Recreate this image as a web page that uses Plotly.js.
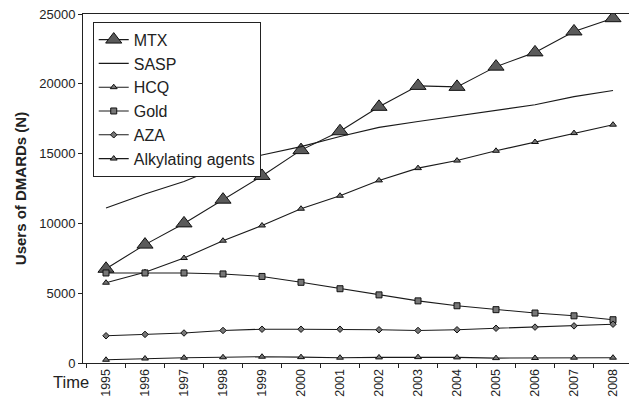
<!DOCTYPE html>
<html>
<head>
<meta charset="utf-8">
<script src="https://cdn.plot.ly/plotly-3.0.1.min.js"></script>
<style>html,body{margin:0;padding:0;background:#fff;}#chart{width:629px;height:401px;}</style>
</head>
<body>
<div id="chart"></div>
<script>
var years = ["1995","1996","1997","1998","1999","2000","2001","2002","2003","2004","2005","2006","2007","2008"];
var mtx   = [6750, 8480, 10000, 11700, 13400, 15250, 16600, 18350, 19850, 19780, 21230, 22250, 23750, 24700];
var sasp  = [11100, 12100, 13000, 14150, 14900, 15500, 16230, 16880, 17300, 17700, 18100, 18500, 19080, 19520];
var hcq   = [5750, 6500, 7520, 8760, 9850, 11050, 11980, 13080, 13960, 14500, 15200, 15830, 16470, 17070];
var gold  = [6450, 6450, 6450, 6380, 6200, 5780, 5320, 4880, 4450, 4100, 3820, 3580, 3380, 3100];
var aza   = [1950, 2050, 2150, 2330, 2420, 2420, 2420, 2380, 2330, 2380, 2490, 2570, 2660, 2780];
var alk   = [230, 320, 380, 410, 450, 420, 380, 400, 420, 400, 350, 360, 380, 380];
var seriesNames = ["MTX", "SASP", "HCQ", "Gold", "AZA", "Alkylating agents"];
var yTicks = [0, 5000, 10000, 15000, 20000, 25000];

var lineStyle = {color: "#1a1a1a", width: 1.1};
function tr(name, ys, marker, mode) {
  return {x: years, y: ys, name: name, type: "scatter", mode: mode || "lines+markers",
          line: lineStyle, marker: marker};
}
var data = [
  tr(seriesNames[0], mtx, {symbol: "triangle-up", size: 14, color: "#5a5a5a", line: {color: "#111", width: 1}}),
  tr(seriesNames[1], sasp, {size: 1, color: "#1a1a1a"}, "lines"),
  tr(seriesNames[2], hcq, {symbol: "triangle-up", size: 6, color: "#777", line: {color: "#111", width: 1}}),
  tr(seriesNames[3], gold, {symbol: "square", size: 6, color: "#777", line: {color: "#111", width: 1}}),
  tr(seriesNames[4], aza, {symbol: "diamond", size: 5, color: "#777", line: {color: "#111", width: 1}}),
  tr(seriesNames[5], alk, {symbol: "triangle-up", size: 6, color: "#777", line: {color: "#111", width: 1}})
];

var layout = {
  width: 629, height: 401,
  margin: {l: 83, r: 0, t: 14, b: 38},
  paper_bgcolor: "#fff", plot_bgcolor: "#fff",
  font: {family: "Liberation Sans, Arial, sans-serif", color: "#222"},
  showlegend: true,
  legend: {x: 0.0178, y: 0.978, xanchor: "left", yanchor: "top",
           bgcolor: "#fff", bordercolor: "#222", borderwidth: 1,
           font: {size: 16, color: "#222"}, tracegroupgap: 0},
  xaxis: {type: "category", range: [-0.59, 13.41], showgrid: false, zeroline: false,
          showline: true, linecolor: "#222", linewidth: 1, mirror: true,
          ticks: "outside", tickson: "boundaries", ticklen: 4, tickcolor: "#222",
          tickangle: -90, tickfont: {size: 12.5, color: "#222"}},
  yaxis: {range: [0, 25000], tickvals: yTicks, ticktext: yTicks.map(String),
          showgrid: false, zeroline: false,
          showline: true, linecolor: "#222", linewidth: 1,
          ticks: "outside", ticklen: 4, tickcolor: "#222",
          tickfont: {size: 13, color: "#222"},
          title: {text: "<b>Users of DMARDs (N)</b>", font: {size: 15, color: "#222"}, standoff: 8}},
  annotations: [{text: "Time", xref: "paper", yref: "paper", x: -0.022, y: -0.055,
                 xanchor: "center", yanchor: "middle", showarrow: false,
                 font: {size: 16.5, color: "#222"}}]
};
Plotly.newPlot("chart", data, layout, {displayModeBar: false, staticPlot: true});
</script>
</body>
</html>
